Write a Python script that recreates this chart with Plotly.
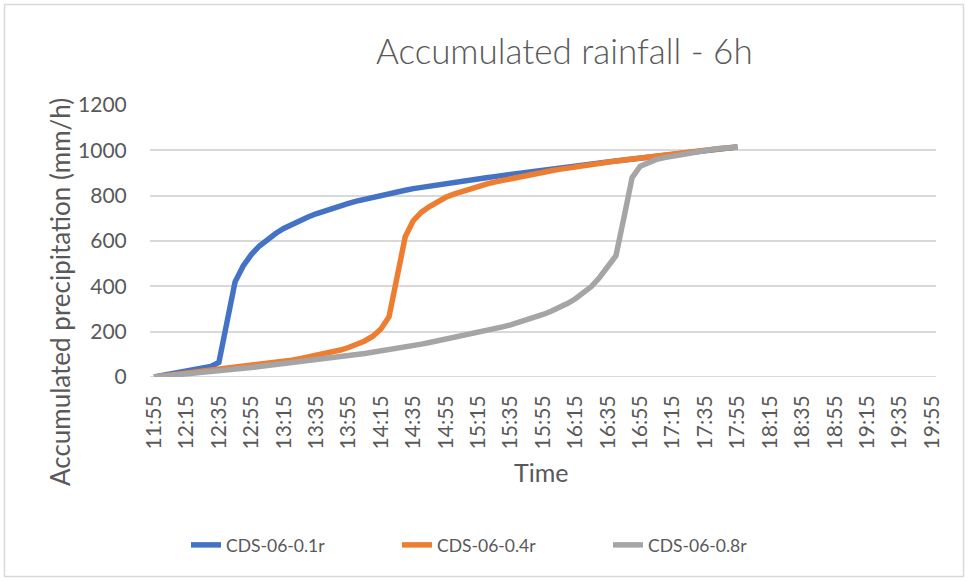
import plotly.graph_objects as go

# Time axis: 5-minute steps from 11:55 to 19:55
times = []
h, m = 11, 55
for _ in range(97):
    times.append(f"{h}:{m:02d}")
    m += 5
    if m >= 60:
        m -= 60
        h += 1

tick_labels = times[::4]

# Accumulated precipitation (mm/h), 11:55 - 17:55
cds_01 = [0, 6, 13, 20, 26, 31, 37, 46, 64, 242, 420, 490, 540, 578, 608, 633,
          655, 674, 691, 706, 720, 733, 745, 756, 766, 776, 785, 794, 802, 810,
          817, 824, 831, 837, 843, 849, 854, 859, 864, 869, 874, 879, 884, 889,
          894, 899, 904, 908, 913, 918, 922, 927, 931, 936, 940, 944, 949, 953,
          957, 961, 965, 969, 973, 977, 981, 985, 989, 993, 997, 1001, 1005,
          1010, 1015]

cds_04 = [0, 4, 8, 12, 16, 20, 24, 28, 32, 36, 40, 44, 48, 52, 57, 62, 68, 74,
          81, 88, 95, 102, 110, 119, 130, 143, 159, 180, 212, 266, 443, 619,
          690, 727, 752, 775, 793, 807, 819, 830, 841, 851, 860, 868, 876, 883,
          890, 897, 904, 910, 916, 922, 928, 933, 938, 943, 948, 953, 957, 962,
          966, 971, 975, 980, 984, 988, 992, 996, 1000, 1004, 1008, 1011, 1015]

cds_08 = [0, 3, 8, 11, 15, 18, 21, 24, 27, 31, 35, 39, 42, 46, 50, 54, 58, 62,
          66, 70, 74, 79, 84, 89, 94, 99, 104, 109, 115, 120, 126, 132, 139,
          145, 152, 159, 166, 173, 180, 188, 196, 204, 212, 221, 230, 240, 251,
          263, 276, 290, 306, 324, 345, 370, 400, 440, 490, 535, 705, 880, 930,
          948, 960, 968, 975, 982, 989, 995, 1001, 1005, 1009, 1012, 1015]

series = [
    ("CDS-06-0.1r", cds_01, "#4472C4"),
    ("CDS-06-0.4r", cds_04, "#ED7D31"),
    ("CDS-06-0.8r", cds_08, "#A5A5A5"),
]

FONT = "Lato"
TXT = "#595959"
GRID = "#D9D9D9"

W, H = 968, 581
L, R, T, B = 150, 32, 105, 204
pw, ph = W - L - R, H - T - B


def px_x(x):
    return (x - L) / pw


def px_y(y):
    return (H - B - y) / ph


fig = go.Figure()
for name, vals, color in series:
    fig.add_trace(go.Scatter(
        x=times[:len(vals)], y=vals, name=name, mode="lines",
        line=dict(color=color, width=5.5, shape="linear"),
    ))

fig.update_layout(
    width=W, height=H,
    margin=dict(l=L, r=R, t=T, b=B, autoexpand=False),
    paper_bgcolor="white", plot_bgcolor="white",
    font=dict(family=FONT, color=TXT),
    showlegend=True,
    legend=dict(
        orientation="h",
        xref="container", yref="container",
        x=186 / W, xanchor="left",
        y=1 - 545 / H, yanchor="middle",
        entrywidth=166, entrywidthmode="pixels",
        font=dict(family=FONT, size=17.5, color=TXT),
        itemwidth=30,
    ),
    xaxis=dict(
        type="category",
        categoryorder="array", categoryarray=times,
        range=[-0.5, len(times) - 0.5],
        tickmode="array", tickvals=tick_labels, ticktext=tick_labels,
        tickangle=-90,
        tickfont=dict(family=FONT, size=21, color=TXT),
        showgrid=False, zeroline=False, showline=False,
        ticks="outside", ticklen=9, tickcolor="rgba(0,0,0,0)",
    ),
    yaxis=dict(
        range=[0, 1200], tickvals=[0, 200, 400, 600, 800, 1000, 1200],
        tickfont=dict(family=FONT, size=21, color=TXT),
        showgrid=True, gridcolor=GRID, gridwidth=2,
        zeroline=False, showline=False,
        ticks="outside", ticklen=18, tickcolor="rgba(0,0,0,0)",
    ),
)

# Bottom axis line at zero, same style as gridlines
fig.add_hline(y=0, line=dict(color=GRID, width=2), layer="below")

# Chart title and axis titles
fig.add_annotation(
    text="Accumulated rainfall - 6h", xref="paper", yref="paper",
    x=px_x(564), y=px_y(50),
    xanchor="center", yanchor="middle", showarrow=False,
    font=dict(family=FONT, size=35, color=TXT, weight=300),
)
fig.add_annotation(
    text="Accumulated precipitation (mm/h)", xref="paper", yref="paper",
    x=px_x(60), y=px_y(292),
    xanchor="center", yanchor="middle", textangle=-90, showarrow=False,
    font=dict(family=FONT, size=26, color=TXT),
)
fig.add_annotation(
    text="Time", xref="paper", yref="paper",
    x=px_x(541), y=px_y(472),
    xanchor="center", yanchor="middle", showarrow=False,
    font=dict(family=FONT, size=25, color=TXT),
)

# Outer chart border
fig.add_shape(
    type="rect", xref="paper", yref="paper",
    x0=px_x(4.5), x1=px_x(963.5),
    y0=px_y(576.5), y1=px_y(4.5),
    line=dict(color=GRID, width=1.5), fillcolor="rgba(0,0,0,0)", layer="below",
)

fig.write_html("out.html")
